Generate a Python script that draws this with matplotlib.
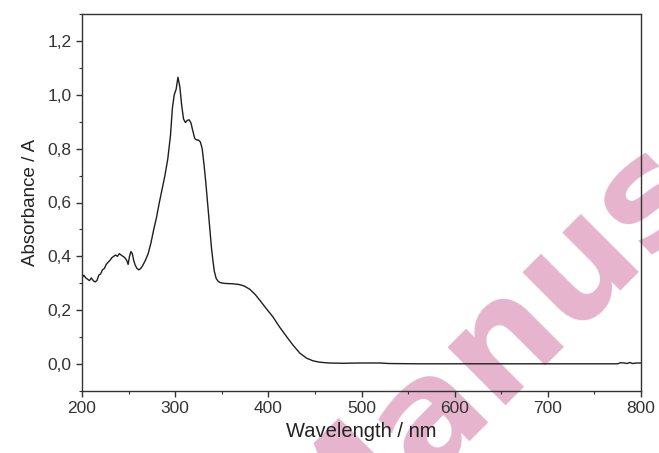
import numpy as np
import matplotlib.pyplot as plt
from matplotlib.ticker import MultipleLocator, FuncFormatter

plt.rcParams['font.family'] = ['Liberation Sans', 'DejaVu Sans']

# UV-Vis spectrum, read point by point
wavelength = [
    200, 202, 204, 206, 208, 210, 212, 214, 216, 218, 220, 222, 224, 226, 228,
    230, 232, 234, 236, 238, 240, 242, 244, 246, 248, 249.5, 251, 252.5, 254,
    255.5, 257, 259, 261, 263, 265, 268, 271, 274, 277, 280, 283, 286, 289, 292,
    295, 297, 299, 301, 303, 305, 307, 309, 311, 313, 315, 317, 319, 321, 323,
    325, 327, 329, 331, 333, 335, 337, 339, 340.5, 342, 344, 346, 348, 352, 356,
    362, 368, 374, 380, 386, 392, 398, 405, 412, 420, 427, 434, 441, 448, 455,
    465, 480, 500, 520, 530, 560, 600, 650, 700, 750, 775, 778, 782, 785, 788,
    791, 795, 800,
]
absorbance = [
    0.32, 0.33, 0.32, 0.315, 0.31, 0.32, 0.31, 0.305, 0.31, 0.33, 0.335, 0.35,
    0.355, 0.37, 0.378, 0.385, 0.395, 0.40, 0.405, 0.40, 0.41, 0.405, 0.40,
    0.395, 0.385, 0.37, 0.40, 0.418, 0.41, 0.385, 0.368, 0.355, 0.35, 0.355,
    0.365, 0.385, 0.41, 0.45, 0.50, 0.545, 0.60, 0.65, 0.70, 0.76, 0.85, 0.95,
    1.00, 1.02, 1.065, 1.03, 0.96, 0.91, 0.897, 0.905, 0.907, 0.895, 0.865,
    0.838, 0.832, 0.832, 0.825, 0.80, 0.74, 0.67, 0.59, 0.51, 0.43, 0.385,
    0.345, 0.318, 0.308, 0.303, 0.30, 0.299, 0.298, 0.296, 0.29, 0.278, 0.258,
    0.232, 0.205, 0.175, 0.138, 0.10, 0.068, 0.04, 0.022, 0.012, 0.007, 0.004,
    0.003, 0.004, 0.004, 0.002, 0.001, 0.001, 0.001, 0.001, 0.001, 0.001,
    0.005, 0.004, 0.002, 0.006, 0.002, 0.004, 0.004,
]

x_ticks = [200, 300, 400, 500, 600, 700, 800]
y_ticks = [0.0, 0.2, 0.4, 0.6, 0.8, 1.0, 1.2]

fig = plt.figure(figsize=(6.59, 4.53), dpi=100)
ax = fig.add_axes([82 / 659, 62 / 453, 559 / 659, 377 / 453])
ax.set_facecolor('none')

# pink diagonal watermark behind the plot
fig.text(316 / 659, -128 / 453, 'Manuscript', fontsize=108, fontweight='bold',
         family='DejaVu Sans', color='#e6b4cd', rotation=45,
         rotation_mode='anchor', ha='left', va='baseline', zorder=-1)

ax.plot(wavelength, absorbance, color='#1e1e1e', lw=1.0)

ax.set_xlim(200, 800)
ax.set_ylim(-0.1, 1.3)
ax.set_xticks(x_ticks)
ax.set_yticks(y_ticks)
ax.xaxis.set_minor_locator(MultipleLocator(50))
ax.yaxis.set_minor_locator(MultipleLocator(0.1))
ax.yaxis.set_major_formatter(FuncFormatter(lambda v, p: f'{v:.1f}'.replace('.', ',')))

ax.tick_params(which='both', direction='out', top=False, right=False,
               labelsize=12.5, labelcolor='#333333', color='#333333')
ax.tick_params(which='major', length=4, width=1)
ax.tick_params(which='minor', length=2.5, width=0.8)
for s in ax.spines.values():
    s.set_color('#333333')
    s.set_linewidth(1.0)

ax.set_xlabel('Wavelength / nm', fontsize=14.5, color='#222222', labelpad=4)
ax.set_ylabel('Absorbance / A', fontsize=13.5, color='#222222', labelpad=6)

fig.savefig('out.png', dpi=100)
